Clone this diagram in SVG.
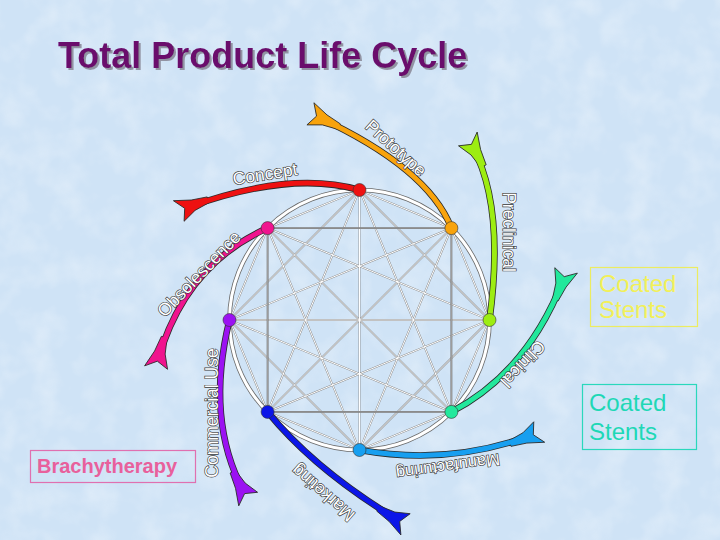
<svg xmlns="http://www.w3.org/2000/svg" width="720" height="540" viewBox="0 0 720 540">
<defs>
<filter id="tex" x="0" y="0" width="100%" height="100%">
<feTurbulence type="fractalNoise" baseFrequency="0.035" numOctaves="3" seed="4"/>
<feColorMatrix type="matrix" values="0 0 0 0 1  0 0 0 0 1  0 0 0 0 1  0 0 0 1.1 -0.45"/>
</filter>
<filter id="shadow" x="-5%" y="-20%" width="110%" height="150%">
<feDropShadow dx="2" dy="2" stdDeviation="0.4" flood-color="#8a8a9a" flood-opacity="0.9"/>
</filter>
<path id="tail" d="M -30,-3 L -14,-5.5 L 0,-12 L -5,0 L 3,11 L -14,5.5 L -30,3 Z"/>
</defs>
<style>
.edge{stroke:#858585;stroke-width:1.8;fill:none}
.edgeHi{stroke:#ffffff;stroke-width:1;fill:none}
.sq{stroke:#6a6a6a;stroke-width:1.8;fill:none}
.sqHi{stroke:#c8c8c8;stroke-width:0.6;fill:none}
.out{fill:none;stroke:#2a2a2a;stroke-width:6.6;stroke-linecap:butt}
.arc{fill:none;stroke-width:5;stroke-linecap:butt}
.tl{stroke:#2a2a2a;stroke-width:0.8}
.dot{stroke:#333;stroke-width:0.6}
.lbl{font-family:"Liberation Sans",Arial,sans-serif;font-size:17.5px;fill:#ffffff;stroke:#3a3a3a;stroke-width:1.3;paint-order:stroke;text-anchor:middle}
.title{font-family:"Liberation Sans",Arial,sans-serif;font-size:36px;font-weight:bold}
.box{font-family:"Liberation Sans",Arial,sans-serif;font-size:24px}
</style>
<rect x="0" y="0" width="720" height="540" fill="#cfe3f6"/>
<rect x="0" y="0" width="720" height="540" filter="url(#tex)" opacity="0.55"/>

<g id="title">
<text class="title" x="58" y="68" fill="#6a0a6c" filter="url(#shadow)">Total Product Life Cycle</text>
</g>

<g id="connectors">
<g class="edge">
<path d="M359.5,190 L451.4,228.1 M359.5,190 L489.5,320 M359.5,190 L451.4,411.9 M359.5,190 L359.5,450 M359.5,190 L267.6,411.9 M359.5,190 L229.5,320 M359.5,190 L267.6,228.1
M451.4,228.1 L489.5,320 M451.4,228.1 L359.5,450 M451.4,228.1 L267.6,411.9 M451.4,228.1 L229.5,320
M489.5,320 L451.4,411.9 M489.5,320 L359.5,450 M489.5,320 L267.6,411.9 M489.5,320 L229.5,320 M489.5,320 L267.6,228.1
M451.4,411.9 L359.5,450 M451.4,411.9 L229.5,320 M451.4,411.9 L267.6,228.1
M359.5,450 L267.6,411.9 M359.5,450 L229.5,320 M359.5,450 L267.6,228.1
M267.6,411.9 L229.5,320
M229.5,320 L267.6,228.1"/>
</g>
<g class="edgeHi">
<path d="M359.5,190 L451.4,228.1 M359.5,190 L489.5,320 M359.5,190 L451.4,411.9 M359.5,190 L359.5,450 M359.5,190 L267.6,411.9 M359.5,190 L229.5,320 M359.5,190 L267.6,228.1
M451.4,228.1 L489.5,320 M451.4,228.1 L359.5,450 M451.4,228.1 L267.6,411.9 M451.4,228.1 L229.5,320
M489.5,320 L451.4,411.9 M489.5,320 L359.5,450 M489.5,320 L267.6,411.9 M489.5,320 L229.5,320 M489.5,320 L267.6,228.1
M451.4,411.9 L359.5,450 M451.4,411.9 L229.5,320 M451.4,411.9 L267.6,228.1
M359.5,450 L267.6,411.9 M359.5,450 L229.5,320 M359.5,450 L267.6,228.1
M267.6,411.9 L229.5,320
M229.5,320 L267.6,228.1"/>
</g>
<path class="sq" d="M267.6,228.1 L451.4,228.1 L451.4,411.9 L267.6,411.9 Z"/>
<path class="sqHi" d="M267.6,228.1 L451.4,228.1 L451.4,411.9 L267.6,411.9 Z"/>
<circle cx="359.5" cy="320" r="130" fill="none" stroke="#6a6a6a" stroke-width="4.6"/>
<circle cx="359.5" cy="320" r="130" fill="none" stroke="#ffffff" stroke-width="3"/>
</g>

<g id="concept">
<path class="out" d="M359.5,190 Q290,170 186,208"/>
<use href="#tail" class="tl" fill="#ee1111" transform="translate(180,210) rotate(160)"/>
<path class="arc" stroke="#ee1111" d="M359.5,190 Q290,170 186,208"/>
<circle class="dot" cx="359.5" cy="190" r="6.5" fill="#ee1111"/>
<text class="lbl" transform="translate(265,174) rotate(-9)" y="6">Concept</text>
</g>

<g id="prototype">
<path class="out" d="M451.4,228.1 Q428,168 318,117"/>
<use href="#tail" class="tl" fill="#f8a30c" transform="translate(312,114) rotate(-155)"/>
<path class="arc" stroke="#f8a30c" d="M451.4,228.1 Q428,168 318,117"/>
<circle class="dot" cx="451.4" cy="228.1" r="6.5" fill="#f8a30c"/>
<text class="lbl" transform="translate(396,148) rotate(42)" y="6">Prototype</text>
</g>

<g id="preclinical">
<path class="out" d="M489.5,320 Q505,205 472,146"/>
<use href="#tail" class="tl" fill="#9ded12" transform="translate(469,140) rotate(-119)"/>
<path class="arc" stroke="#9ded12" d="M489.5,320 Q505,205 472,146"/>
<circle class="dot" cx="489.5" cy="320" r="6.5" fill="#9ded12"/>
<text class="lbl" transform="translate(509,232) rotate(90)" y="6">Preclinical</text>
</g>

<g id="clinical">
<path class="out" d="M451.4,411.9 Q528,372 564,278"/>
<use href="#tail" class="tl" fill="#22e89c" transform="translate(566,272) rotate(-69)"/>
<path class="arc" stroke="#22e89c" d="M451.4,411.9 Q528,372 564,278"/>
<circle class="dot" cx="451.4" cy="411.9" r="6.5" fill="#22e89c"/>
<text class="lbl" transform="translate(523,364) rotate(133)" y="6">Clinical</text>
</g>

<g id="manufacturing">
<path class="out" d="M359.5,450 Q450,466 532,435"/>
<use href="#tail" class="tl" fill="#179ff0" transform="translate(538,433) rotate(-20.6)"/>
<path class="arc" stroke="#179ff0" d="M359.5,450 Q450,466 532,435"/>
<circle class="dot" cx="359.5" cy="450" r="6.5" fill="#179ff0"/>
<text class="lbl" style="font-size:16.5px" transform="translate(448,467) rotate(172)" y="6">Manufacturing</text>
</g>

<g id="marketing">
<path class="out" d="M267.6,411.9 Q315,470 398,520"/>
<use href="#tail" class="tl" fill="#0c16e8" transform="translate(404,524) rotate(31)"/>
<path class="arc" stroke="#0c16e8" d="M267.6,411.9 Q315,470 398,520"/>
<circle class="dot" cx="267.6" cy="411.9" r="6.5" fill="#0c16e8"/>
<text class="lbl" transform="translate(323,493) rotate(221)" y="6">Marketing</text>
</g>

<g id="commercial-use">
<path class="out" d="M229.5,320 Q205,420 244,492"/>
<use href="#tail" class="tl" fill="#9b12f2" transform="translate(247,498) rotate(61.7)"/>
<path class="arc" stroke="#9b12f2" d="M229.5,320 Q205,420 244,492"/>
<circle class="dot" cx="229.5" cy="320" r="6.5" fill="#9b12f2"/>
<text class="lbl" transform="translate(212,413) rotate(-90)" y="6">Commercial Use</text>
</g>

<g id="obsolescence">
<path class="out" d="M267.6,228.1 Q185,265 158,360"/>
<use href="#tail" class="tl" fill="#f0148e" transform="translate(156,366) rotate(106)"/>
<path class="arc" stroke="#f0148e" d="M267.6,228.1 Q185,265 158,360"/>
<circle class="dot" cx="267.6" cy="228.1" r="6.5" fill="#f0148e"/>
<text class="lbl" transform="translate(199,274) rotate(-46)" y="6">Obsolescence</text>
</g>

<g id="coated-stents-yellow">
<rect x="590.5" y="267.5" width="107" height="59" fill="none" stroke="#ecec60" stroke-width="1.2"/>
<text class="box" x="599" y="292" fill="#f2f058">Coated</text>
<text class="box" x="599" y="318" fill="#f2f058">Stents</text>
</g>

<g id="coated-stents-teal">
<rect x="582.5" y="384.5" width="114" height="65" fill="none" stroke="#2ad8bc" stroke-width="1.2"/>
<text class="box" x="589" y="411" fill="#1ed8b6">Coated</text>
<text class="box" x="589" y="440" fill="#1ed8b6">Stents</text>
</g>

<g id="brachytherapy">
<rect x="30.5" y="450.5" width="165" height="32" fill="none" stroke="#e070b0" stroke-width="1.2"/>
<text x="37" y="473" font-family="'Liberation Sans',Arial,sans-serif" font-size="20" font-weight="bold" fill="#e8609c">Brachytherapy</text>
</g>
</svg>
